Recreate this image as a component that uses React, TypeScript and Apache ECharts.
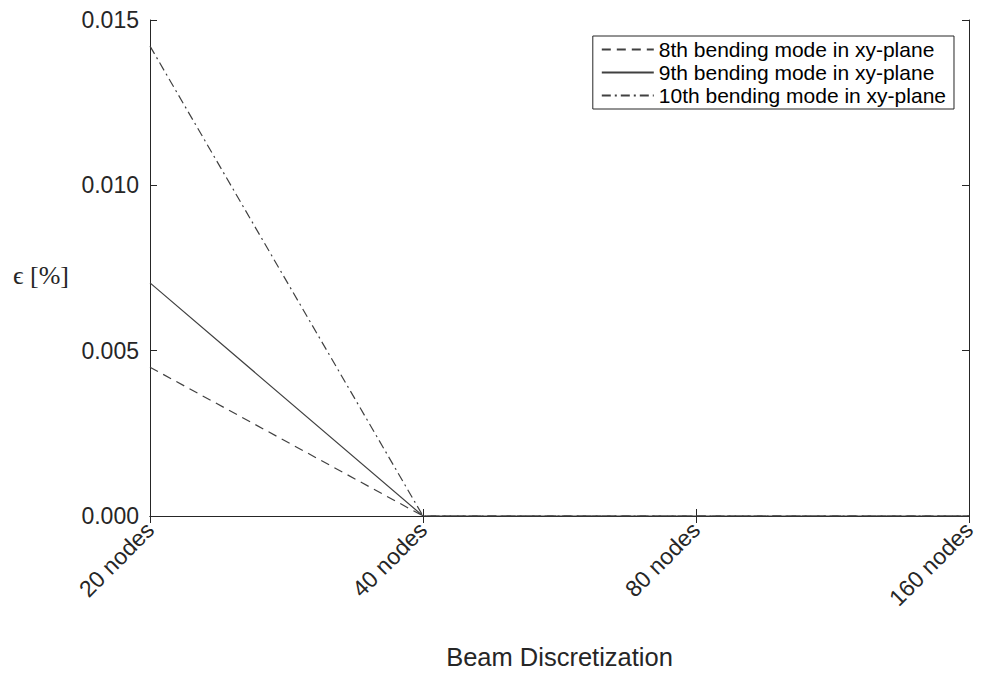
import React, { useEffect, useRef } from "react";
import * as echarts from "echarts";

const categories = ["20 nodes", "40 nodes", "80 nodes", "160 nodes"];
const mode8 = [0.0045, 0, 0, 0];
const mode9 = [0.00705, 0, 0, 0];
const mode10 = [0.01421, 0, 0, 0];
const seriesNames = [
  "8th bending mode in xy-plane",
  "9th bending mode in xy-plane",
  "10th bending mode in xy-plane",
];
const yTicks = { min: 0, max: 0.015, interval: 0.005 };

const AXIS = "#262626";
const LINE = "#404040";
const FONT = "'Liberation Sans', Arial, Helvetica, sans-serif";

export default function App() {
  const ref = useRef<HTMLDivElement>(null);
  useEffect(() => {
    if (!ref.current) return;
    const chart = echarts.init(ref.current, undefined, { renderer: "svg" });
    const mk = (name: string, data: number[], type: any) => ({
      name,
      type: "line",
      data,
      symbol: "none",
      showSymbol: false,
      xAxisIndex: 0,
      yAxisIndex: 0,
      lineStyle: { color: LINE, width: 1.2, type },
      itemStyle: { color: LINE },
    });
    chart.setOption({
      animation: false,
      backgroundColor: "#ffffff",
      grid: { left: 150, right: 18, top: 20, bottom: 142, containLabel: false },
      legend: {
        orient: "vertical",
        right: 33,
        top: 36,
        padding: [3, 8, 3, 8],
        itemGap: 2,
        itemWidth: 52,
        itemHeight: 14,
        borderColor: AXIS,
        borderWidth: 1,
        backgroundColor: "#fff",
        itemStyle: { color: "rgba(0,0,0,0)", borderWidth: 0, opacity: 0 },
        textStyle: { fontFamily: FONT, fontSize: 21, color: "#000", padding: [1, 0, 1, 0] },
        data: seriesNames,
      },
      xAxis: [
        {
          type: "category",
          data: categories,
          boundaryGap: false,
          axisLine: { lineStyle: { color: AXIS } },
          axisTick: { inside: true, length: 7, alignWithLabel: true, lineStyle: { color: AXIS } },
          axisLabel: { rotate: 45, fontFamily: FONT, fontSize: 23, color: AXIS, margin: 10 },
          splitLine: { show: false },
          name: "Beam Discretization",
          nameLocation: "middle",
          nameGap: 128,
          nameTextStyle: { fontFamily: FONT, fontSize: 25.5, color: AXIS },
        },
        {
          type: "category",
          data: categories,
          boundaryGap: false,
          position: "top",
          axisLine: { lineStyle: { color: AXIS } },
          axisTick: { inside: true, length: 7, lineStyle: { color: AXIS } },
          axisLabel: { show: false },
          splitLine: { show: false },
        },
      ],
      yAxis: [
        {
          type: "value",
          min: yTicks.min,
          max: yTicks.max,
          interval: yTicks.interval,
          axisLine: { show: true, lineStyle: { color: AXIS } },
          axisTick: { show: true, inside: true, length: 7, lineStyle: { color: AXIS } },
          axisLabel: {
            fontFamily: FONT,
            fontSize: 23,
            color: AXIS,
            margin: 11,
            formatter: (v: number) => v.toFixed(3),
          },
          splitLine: { show: false },
        },
        {
          type: "value",
          min: yTicks.min,
          max: yTicks.max,
          interval: yTicks.interval,
          position: "right",
          axisLine: { show: true, lineStyle: { color: AXIS } },
          axisTick: { show: true, inside: true, length: 7, lineStyle: { color: AXIS } },
          axisLabel: { show: false },
          splitLine: { show: false },
        },
      ],
      graphic: [
        {
          type: "text",
          x: 41,
          y: 275,
          style: {
            text: "\u03f5 [%]",
            fontFamily: "'Liberation Serif', 'DejaVu Serif', serif",
            fontSize: 26,
            fill: "#262626",
            align: "center",
            verticalAlign: "middle",
          },
        },
      ],
      series: [
        mk(seriesNames[0], mode8, [9, 6]),
        mk(seriesNames[1], mode9, "solid"),
        mk(seriesNames[2], mode10, [9, 4, 2, 4]),
      ],
    });
    return () => chart.dispose();
  }, []);
  return (
    <div
      ref={ref}
      style={{ position: "fixed", left: 0, top: 0, width: 987, height: 675, background: "#fff" }}
    />
  );
}
